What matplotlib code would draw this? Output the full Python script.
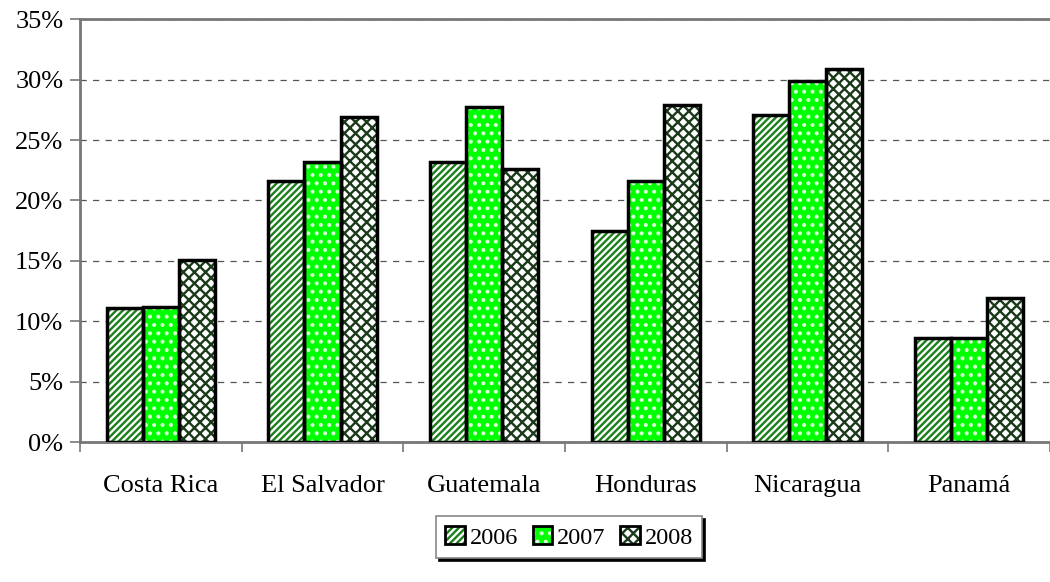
import matplotlib.pyplot as plt
import numpy as np
from matplotlib.patches import Patch
from matplotlib.legend_handler import HandlerTuple
from matplotlib.ticker import FuncFormatter

countries = ['Costa Rica', 'El Salvador', 'Guatemala', 'Honduras', 'Nicaragua', 'Panamá']
years = ['2006', '2007', '2008']
v2006 = [11.1, 21.6, 23.2, 17.5, 27.1, 8.6]
v2007 = [11.2, 23.2, 27.7, 21.6, 29.9, 8.6]
v2008 = [15.1, 26.9, 22.6, 27.9, 30.9, 11.9]

plt.rcParams['font.family'] = ['Liberation Serif', 'DejaVu Serif']
plt.rcParams['hatch.linewidth'] = 1.7

fig = plt.figure(figsize=(10.5, 5.82), dpi=100)
ax = fig.add_axes([0.0762, 0.2405, 0.9238, 0.7265])

x = np.arange(len(countries))
w = 0.224
styles = [
    dict(face='white', hatch='/////', hcol='#1a801a'),
    dict(face='#00ff00', hatch='..', hcol='#d8ffd8'),
    dict(face='white', hatch='xxx', hcol='#1a3a1a'),
]
handles = []
for i, (vals, st) in enumerate(zip([v2006, v2007, v2008], styles)):
    pos = x + (i - 1) * w
    ax.bar(pos, vals, w, color=st['face'], hatch=st['hatch'],
           edgecolor=st['hcol'], linewidth=0, zorder=3)
    ax.bar(pos, vals, w, fill=False, edgecolor='black', linewidth=2.5, zorder=4)
    inner = Patch(facecolor=st['face'], hatch=st['hatch'], edgecolor=st['hcol'], linewidth=0)
    border = Patch(fill=False, edgecolor='black', linewidth=2)
    handles.append((inner, border))

ax.set_xlim(-0.5, len(countries) - 0.5)
ax.set_ylim(0, 35)
ax.set_yticks(np.arange(0, 36, 5))
ax.yaxis.set_major_formatter(FuncFormatter(lambda v, p: f'{v:.0f}%'))
ax.grid(axis='y', linestyle=(0, (5, 5)), color='#555555', linewidth=0.9, zorder=0)

ax.set_xticks(x)
ax.set_xticklabels(countries)
ax.set_xticks(np.arange(-0.5, len(countries)), minor=True)
ax.tick_params(axis='x', which='major', length=0, pad=24, labelsize=19)
ax.tick_params(axis='x', which='minor', length=7, color='#777777', width=1.2)
ax.tick_params(axis='y', length=7, color='#777777', width=1.2, labelsize=19, pad=5)

for s in ax.spines.values():
    s.set_color('#777777')
    s.set_linewidth(2)
ax.spines['right'].set_visible(False)

leg = fig.legend(handles, years, loc='center', bbox_to_anchor=(0.542, 0.077),
                 ncol=3, fontsize=17.5, frameon=True, fancybox=False,
                 shadow={'color': 'black', 'alpha': 1},
                 handler_map={tuple: HandlerTuple(ndivide=1)},
                 handlelength=0.8, handleheight=0.8, handletextpad=0.2,
                 columnspacing=0.6, borderpad=0.4, framealpha=1)
leg.get_frame().set_edgecolor('#888888')
leg.get_frame().set_linewidth(1.2)

fig.savefig('out.png', dpi=100)
